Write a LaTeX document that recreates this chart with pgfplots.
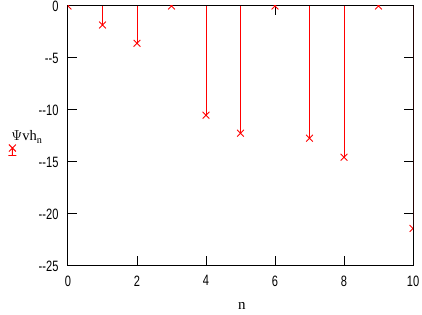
\documentclass[border=0pt]{standalone}
\usepackage{pgfplots}
\pgfplotsset{compat=1.18}
\usepackage{fontspec}
\setmainfont{Liberation Serif}
\newfontfamily\tickfont[FakeStretch=0.74]{Liberation Sans}
\begin{document}
\begin{tikzpicture}[x=1pt,y=1pt]
\useasboundingbox (-68,-49) rectangle (354,266);
\begin{axis}[
  at={(0,0)}, anchor=south west,
  scale only axis, width=345pt, height=260pt,
  xmin=0, xmax=10, ymin=-25, ymax=0,
  xtick={0,2,4,6,8,10}, ytick={-25,-20,-15,-10,-5,0},
  yticklabels={--25,--20,--15,--10,--5,0},
  xticklabels={0,2,4,6,8,10},
  tick align=inside, major tick length=9.5pt,
  xtick pos=both, ytick pos=both,
  axis line style={line width=1pt, black},
  every tick/.style={black, line width=1pt},
  tick label style={font=\tickfont\fontsize{15}{15}\selectfont},
  yticklabel style={anchor=east, xshift=-6pt},
  xticklabel style={anchor=north, yshift=-6pt},
  clip marker paths=true,
  xlabel={n},
  xlabel style={at={(axis description cs:0.504,-0.154)}, anchor=center, font=\fontsize{15}{15}\selectfont},
  ylabel={\fontsize{14.5}{14.5}\selectfont$\Psi$vh\textsubscript{n}},
  ylabel style={at={(axis description cs:-0.119,0.496)}, anchor=center, rotate=-90},
  legend style={at={(axis description cs:-0.174,0.446)}, anchor=west, draw=none, fill=none,
    inner sep=0pt, outer sep=0pt, row sep=0pt, column sep=0pt, nodes={inner sep=0pt}},
  legend image code/.code={
    \draw[red, line width=0.9pt] (-3.5pt,-3.5pt)--(3.5pt,3.5pt) (-3.5pt,3.5pt)--(3.5pt,-3.5pt)
      (0pt,0pt)--(0pt,-7.5pt) (-4pt,-7.5pt)--(4pt,-7.5pt);
  },
]
\addplot[red, line width=0.9pt, ycomb, mark=x, mark size=4.8pt, mark options={solid}] coordinates {
(0,0) (1,-1.83) (2,-3.59) (3,0) (4,-10.5) (5,-12.23) (6,0) (7,-12.71) (8,-14.54) (9,0) (10,-21.39)
};
\addlegendentry{}
\end{axis}
\end{tikzpicture}
\end{document}
